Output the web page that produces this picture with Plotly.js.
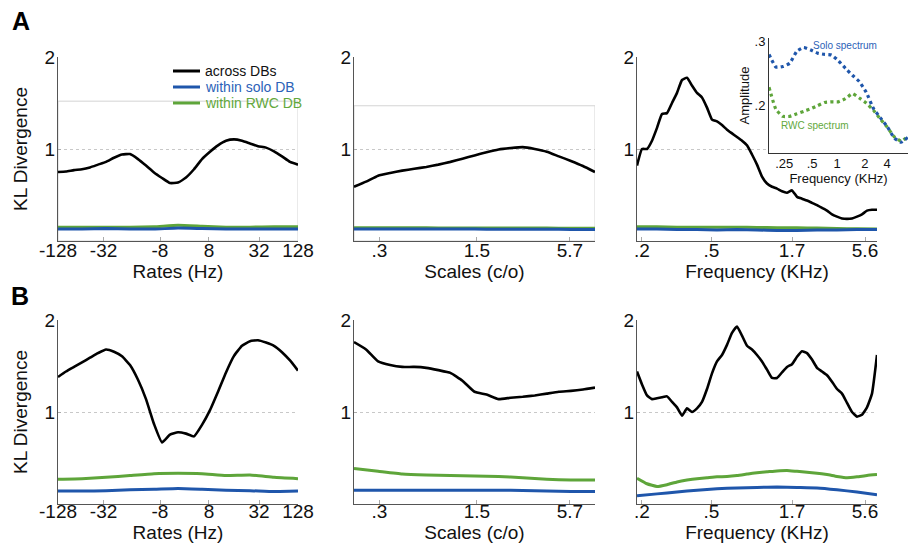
<!DOCTYPE html>
<html>
<head>
<meta charset="utf-8">
<script src="https://cdn.plot.ly/plotly-3.0.1.min.js"></script>
<style>html,body{margin:0;padding:0;background:#fff;}#chart{width:908px;height:552px;}</style>
</head>
<body>
<div id="chart"></div>
<script>
// ---------- tick labels ----------
const rateTicks = ['-128', '-32', '-8', '8', '32', '128'];
const scaleTicks = ['.3', '1.5', '5.7'];
const freqTicks = ['.2', '.5', '1.7', '5.6'];
const insetFreqTicks = ['.25', '.5', '1', '2', '4'];
const yTicks = ['1', '2'];
const insetYTicks = ['.2', '.3'];
const seriesNames = ['across DBs', 'within solo DB', 'within RWC DB'];

// ---------- A: rates ----------
const a1Across = [0.75,0.755,0.77,0.78,0.80,0.83,0.86,0.905,0.94,0.945,0.89,0.82,0.745,0.685,0.63,0.635,0.69,0.78,0.89,0.97,1.04,1.09,1.105,1.09,1.06,1.03,1.015,0.975,0.92,0.86,0.83];
const a1Solo = [0.13,0.13,0.135,0.13,0.13,0.14,0.135,0.13,0.13,0.13,0.13];
const a1Rwc = [0.15,0.15,0.15,0.15,0.155,0.17,0.16,0.15,0.15,0.155,0.155];
// ---------- A: scales ----------
const a2Across = [0.59,0.645,0.71,0.74,0.765,0.785,0.805,0.83,0.86,0.895,0.93,0.965,0.995,1.01,1.02,1.00,0.97,0.92,0.87,0.815,0.75];
const a2Solo = [0.13,0.13,0.13,0.13,0.13,0.13,0.128,0.128,0.127,0.126,0.125];
const a2Rwc = [0.145,0.145,0.144,0.143,0.142,0.142,0.141,0.14,0.14,0.139,0.138];
// ---------- A: frequency ----------
const a3Across = [0.82,1.00,1.00,1.09,1.23,1.38,1.39,1.50,1.61,1.75,1.775,1.69,1.61,1.56,1.45,1.32,1.30,1.26,1.21,1.17,1.13,1.09,1.04,0.94,0.83,0.70,0.625,0.59,0.57,0.54,0.525,0.55,0.48,0.46,0.44,0.415,0.39,0.36,0.33,0.29,0.265,0.245,0.24,0.245,0.265,0.29,0.33,0.34,0.34];
const a3Solo = [0.13,0.13,0.125,0.125,0.12,0.125,0.12,0.115,0.115,0.12,0.12,0.125,0.125];
const a3Rwc = [0.155,0.155,0.15,0.15,0.15,0.15,0.148,0.145,0.143,0.14,0.135,0.133,0.13];
// ---------- inset spectra ----------
const insetSolo = [0.28,0.26,0.261,0.266,0.285,0.291,0.287,0.282,0.28,0.279,0.27,0.258,0.247,0.237,0.22,0.195,0.18,0.166,0.148,0.141,0.149];
const insetRwc = [0.228,0.193,0.182,0.182,0.186,0.19,0.194,0.199,0.204,0.205,0.205,0.21,0.218,0.211,0.203,0.192,0.178,0.165,0.15,0.143,0.15];
// ---------- B: rates ----------
const b1Across = [1.38,1.44,1.49,1.54,1.59,1.64,1.68,1.655,1.605,1.51,1.35,1.14,0.87,0.67,0.755,0.78,0.765,0.735,0.86,1.02,1.22,1.43,1.61,1.72,1.77,1.78,1.755,1.72,1.65,1.56,1.45];
const b1Solo = [0.14,0.14,0.145,0.155,0.16,0.168,0.16,0.15,0.145,0.135,0.14];
const b1Rwc = [0.27,0.275,0.29,0.31,0.33,0.335,0.33,0.31,0.315,0.29,0.275];
// ---------- B: scales ----------
const b2Across = [1.76,1.68,1.55,1.51,1.49,1.49,1.48,1.455,1.425,1.34,1.22,1.19,1.14,1.155,1.165,1.18,1.20,1.22,1.23,1.245,1.265];
const b2Solo = [0.15,0.15,0.15,0.15,0.15,0.15,0.15,0.148,0.14,0.135,0.135];
const b2Rwc = [0.385,0.355,0.325,0.315,0.31,0.305,0.30,0.285,0.27,0.26,0.26];
// ---------- B: frequency ----------
const b3Across = [1.44,1.30,1.18,1.14,1.15,1.16,1.17,1.11,1.05,0.96,1.04,1.00,1.04,1.11,1.25,1.42,1.55,1.62,1.73,1.86,1.93,1.83,1.72,1.68,1.62,1.55,1.46,1.37,1.37,1.43,1.49,1.52,1.60,1.66,1.64,1.57,1.48,1.44,1.40,1.33,1.25,1.20,1.10,1.00,0.95,0.97,1.05,1.20,1.62];
const b3Solo = [0.09,0.11,0.13,0.15,0.165,0.175,0.18,0.185,0.18,0.175,0.155,0.13,0.10];
const b3Rwc = [0.28,0.22,0.19,0.21,0.24,0.26,0.275,0.285,0.295,0.30,0.31,0.325,0.34,0.35,0.36,0.365,0.355,0.345,0.335,0.32,0.30,0.285,0.295,0.31,0.32];

// ---------- styling ----------
const FONT = 'Arial, "Liberation Sans", sans-serif';
const BLACK = '#000000', BLUE = '#1f56ab', GREEN = '#5ea53a';
const BLUE_TXT = '#2c62b8', GREEN_TXT = '#63a83c';

function pos(v) { return v.map((_, i) => i / (v.length - 1)); }
function line(vals, color, width, xa, ya, extra) {
  return Object.assign({ type: 'scatter', mode: 'lines', x: pos(vals), y: vals, xaxis: xa, yaxis: ya,
    line: { color: color, width: width, shape: 'spline', smoothing: 0.4 }, showlegend: false, hoverinfo: 'skip' }, extra || {});
}

const traces = [];
const panels = [
  [a1Across, a1Solo, a1Rwc, 'x', 'y'],
  [a2Across, a2Solo, a2Rwc, 'x2', 'y2'],
  [a3Across, a3Solo, a3Rwc, 'x3', 'y3'],
  [b1Across, b1Solo, b1Rwc, 'x4', 'y4'],
  [b2Across, b2Solo, b2Rwc, 'x5', 'y5'],
  [b3Across, b3Solo, b3Rwc, 'x6', 'y6']
];
panels.forEach(p => {
  traces.push(line(p[2], GREEN, 3, p[3], p[4], { name: seriesNames[2] }));
  traces.push(line(p[1], BLUE, 3, p[3], p[4], { name: seriesNames[1] }));
  traces.push(line(p[0], BLACK, 2.6, p[3], p[4], { name: seriesNames[0] }));
});
traces.push(line(insetRwc, GREEN, 3.2, 'x7', 'y7', { name: 'RWC spectrum', line: { color: GREEN, width: 3.2, dash: 'dot', shape: 'spline', smoothing: 0.4 } }));
traces.push(line(insetSolo, BLUE, 3.2, 'x7', 'y7', { name: 'Solo spectrum', line: { color: BLUE, width: 3.2, dash: 'dot', shape: 'spline', smoothing: 0.4 } }));

const W = 908, H = 552;
const colDom = [[58 / W, 298 / W], [354 / W, 595 / W], [637 / W, 877 / W]];
const rowDom = [[1 - 241 / H, 1 - 57 / H], [1 - 504 / H, 1 - 320 / H]];
const xTickSets = [
  { vals: [0, 0.19, 0.425, 0.629, 0.8375, 1], text: rateTicks, title: 'Rates (Hz)' },
  { vals: [0.105, 0.51, 0.896], text: scaleTicks, title: 'Scales (c/o)' },
  { vals: [0.02, 0.31, 0.646, 0.95], text: freqTicks, title: 'Frequency (KHz)' }
];

const layout = {
  width: W, height: H, autosize: false,
  margin: { l: 0, r: 0, t: 0, b: 0, pad: 0 },
  paper_bgcolor: '#fff', plot_bgcolor: 'rgba(0,0,0,0)',
  font: { family: FONT, color: '#000', size: 19 },
  showlegend: false,
  shapes: [], annotations: []
};

for (let r = 0; r < 2; r++) {
  for (let c = 0; c < 3; c++) {
    const k = r * 3 + c + 1;
    const xn = k === 1 ? 'xaxis' : 'xaxis' + k;
    const yn = k === 1 ? 'yaxis' : 'yaxis' + k;
    const ts = xTickSets[c];
    layout[xn] = {
      domain: colDom[c], anchor: k === 1 ? 'y' : 'y' + k, range: [0, 1],
      showline: true, linecolor: '#555', linewidth: 1, mirror: false,
      showgrid: false, zeroline: false, fixedrange: true,
      tickmode: 'array', tickvals: ts.vals, ticktext: ts.text,
      ticks: 'inside', ticklen: 4, tickcolor: '#aaa',
      ticklabelstandoff: r === 0 ? -8 : -10,
      tickfont: { size: 19, family: FONT, color: '#111' },
      title: { text: ts.title, font: { size: 19, family: FONT, color: '#111' }, standoff: 0 },
      automargin: false
    };
    layout[yn] = {
      domain: rowDom[r], anchor: k === 1 ? 'x' : 'x' + k, range: [0, 2],
      showline: true, linecolor: '#555', linewidth: 1,
      showgrid: true, gridcolor: '#c8c8c8', griddash: 'dot', gridwidth: 1,
      zeroline: false, fixedrange: true,
      tickmode: 'array', tickvals: [1, 2], ticktext: yTicks,
      ticks: 'inside', ticklen: 3, tickcolor: '#aaa',
      ticklabelstandoff: -2,
      tickfont: { size: 19, family: FONT, color: '#111' },
      automargin: false,
      title: c === 0 ? { text: 'KL Divergence', font: { size: 19, family: FONT, color: '#111' }, standoff: 11 } : { text: '' }
    };
  }
}

// inset axes
layout.xaxis7 = {
  domain: [769 / W, 1], anchor: 'y7', range: [0, 1],
  showline: true, linecolor: '#333', linewidth: 1, showgrid: false, zeroline: false, fixedrange: true,
  tickmode: 'array', tickvals: [0.11, 0.31, 0.49, 0.69, 0.85], ticktext: insetFreqTicks,
  ticks: '', ticklabelstandoff: -2, tickfont: { size: 13, family: FONT, color: '#111' },
  title: { text: 'Frequency (KHz)', font: { size: 13, family: FONT, color: '#111' }, standoff: 0 },
  automargin: false
};
layout.yaxis7 = {
  domain: [1 - 153 / H, 1 - 38 / H], anchor: 'x7', range: [0.124, 0.306],
  showline: true, linecolor: '#333', linewidth: 1, showgrid: false, zeroline: false, fixedrange: true,
  tickmode: 'array', tickvals: [0.2, 0.3], ticktext: insetYTicks,
  ticks: '', tickfont: { size: 13, family: FONT, color: '#111' },
  title: { text: 'Amplitude', font: { size: 13, family: FONT, color: '#111' }, standoff: 2 },
  automargin: false
};

// light gray frames in A-row panels 1 and 2
layout.shapes.push({ type: 'rect', xref: 'x', yref: 'y', x0: 0, x1: 1, y0: 0, y1: 1.52, line: { color: '#d4d4d4', width: 1 }, layer: 'below' });
layout.shapes.push({ type: 'rect', xref: 'x2', yref: 'y2', x0: 0, x1: 1, y0: 0, y1: 1.47, line: { color: '#d4d4d4', width: 1 }, layer: 'below' });
// inset background
layout.shapes.push({ type: 'rect', xref: 'x7', yref: 'y7', x0: 0, x1: 1, y0: 0.124, y1: 0.306, fillcolor: '#fff', line: { width: 0 }, layer: 'below' });

// manual legend (panel A1)
const legColors = [BLACK, BLUE, GREEN];
const legTxt = ['#111', BLUE_TXT, GREEN_TXT];
const legY = [71, 87, 103];
seriesNames.forEach((n, i) => {
  layout.shapes.push({ type: 'line', xref: 'paper', yref: 'paper', x0: 173 / W, x1: 200 / W, y0: 1 - legY[i] / H, y1: 1 - legY[i] / H, line: { color: legColors[i], width: 3 } });
  layout.annotations.push({ xref: 'paper', yref: 'paper', x: 204 / W, y: 1 - legY[i] / H, xanchor: 'left', yanchor: 'middle', showarrow: false, text: n, borderpad: 0, font: { size: 14, family: FONT, color: legTxt[i] } });
});

// inset labels
layout.annotations.push({ xref: 'paper', yref: 'paper', x: 811 / W, y: 1 - 45 / H, xanchor: 'left', yanchor: 'middle', showarrow: false, text: 'Solo spectrum', font: { size: 10, family: FONT, color: BLUE_TXT } });
layout.annotations.push({ xref: 'paper', yref: 'paper', x: 779 / W, y: 1 - 125 / H, xanchor: 'left', yanchor: 'middle', showarrow: false, text: 'RWC spectrum', font: { size: 10, family: FONT, color: GREEN_TXT } });

// panel letters
layout.annotations.push({ xref: 'paper', yref: 'paper', x: 21 / W, y: 1 - 21 / H, xanchor: 'center', yanchor: 'middle', showarrow: false, text: '<b>A</b>', font: { size: 25, family: FONT, color: '#000' } });
layout.annotations.push({ xref: 'paper', yref: 'paper', x: 20 / W, y: 1 - 296 / H, xanchor: 'center', yanchor: 'middle', showarrow: false, text: '<b>B</b>', font: { size: 25, family: FONT, color: '#000' } });

Plotly.newPlot('chart', traces, layout, { staticPlot: true, displayModeBar: false });
</script>
</body>
</html>
